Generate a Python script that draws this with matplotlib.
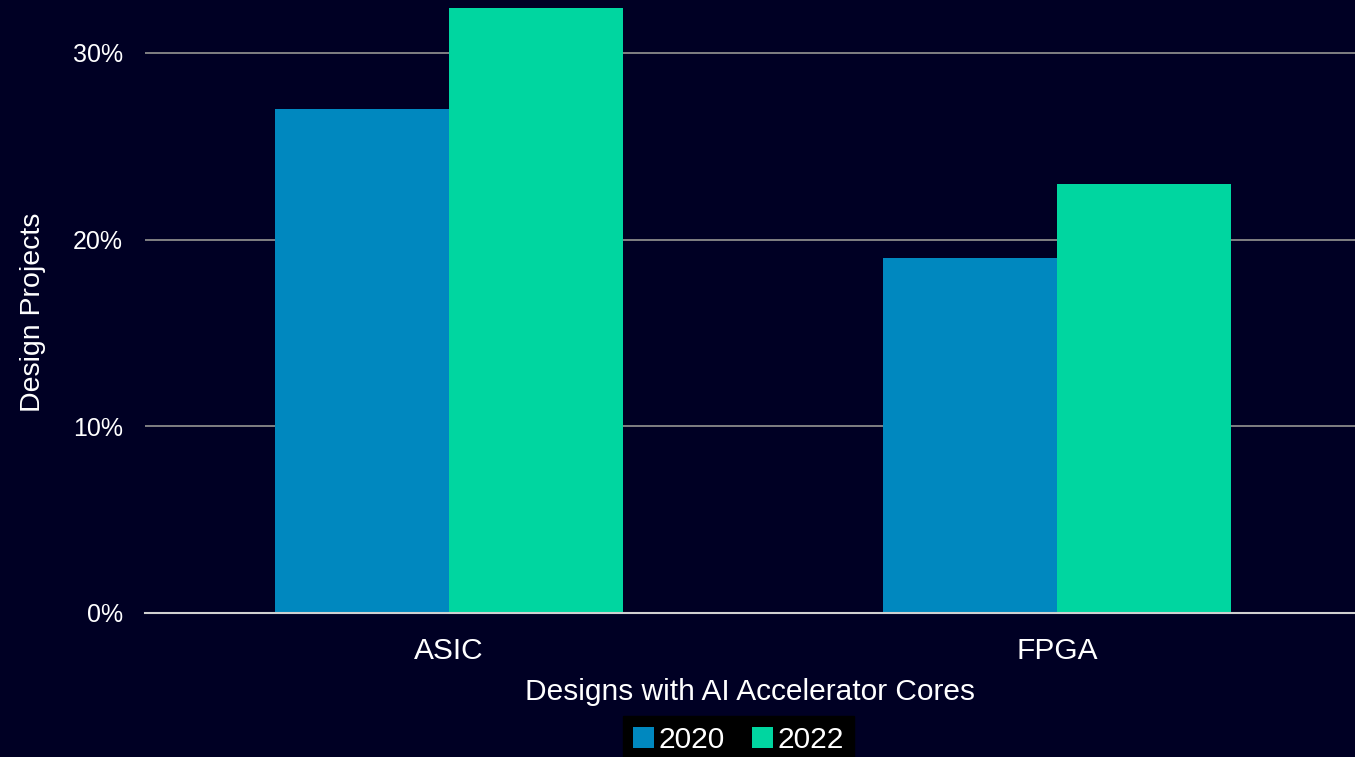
import numpy as np
import matplotlib
matplotlib.use("Agg")
import matplotlib.pyplot as plt
from matplotlib.ticker import PercentFormatter

plt.rcParams['font.family'] = ['Liberation Sans', 'DejaVu Sans']

# data
categories = ["ASIC", "FPGA"]
years = ["2020", "2022"]
share_2020 = [27.0, 19.0]
share_2022 = [32.4, 23.0]

bg = "#000024"
colors = ["#0088BF", "#00D6A0"]

fig = plt.figure(figsize=(13.55, 7.57), dpi=100, facecolor=bg)
ax = fig.add_axes([145 / 1355, 144 / 757, 1210 / 1355, 613 / 757])
ax.set_facecolor(bg)

x = np.arange(len(categories))
w = 0.286
ax.bar(x - w / 2, share_2020, w, color=colors[0], label=years[0], zorder=3)
ax.bar(x + w / 2, share_2022, w, color=colors[1], label=years[1], zorder=3)

ax.set_xlim(-0.5, 1.49)
ax.set_ylim(0, 32.83)
ax.set_yticks([0, 10, 20, 30])
ax.yaxis.set_major_formatter(PercentFormatter(decimals=0))
ax.set_xticks(x)
ax.set_xticklabels(categories)

ax.grid(axis="y", color="#8a8a8a", linewidth=1.3, zorder=0)
for s in ["top", "right", "left"]:
    ax.spines[s].set_visible(False)
ax.spines["bottom"].set_color("#d0d0d0")
ax.spines["bottom"].set_linewidth(1.5)
ax.spines["bottom"].set_zorder(4)

ax.tick_params(axis="both", length=0, colors="white")
ax.tick_params(axis="y", pad=16, labelsize=18)
ax.tick_params(axis="x", pad=17, labelsize=21.5)

ax.set_xlabel("Designs with AI Accelerator Cores", color="white", fontsize=21.5, labelpad=10)
ax.set_ylabel("Design Projects", color="white", fontsize=20.5)
ax.yaxis.set_label_coords(-0.082, 0.49)

leg = fig.legend(loc="lower center", bbox_to_anchor=(0.545, -0.03), ncol=2,
                 fontsize=21.5, frameon=True, fancybox=False,
                 handlelength=0.7, handleheight=0.7, handletextpad=0.15,
                 columnspacing=0.9, borderpad=0.35)
leg.get_frame().set_facecolor("black")
leg.get_frame().set_edgecolor("black")
leg.get_frame().set_alpha(1)
for t in leg.get_texts():
    t.set_color("white")

fig.savefig("out.png", dpi=100, facecolor=bg)
